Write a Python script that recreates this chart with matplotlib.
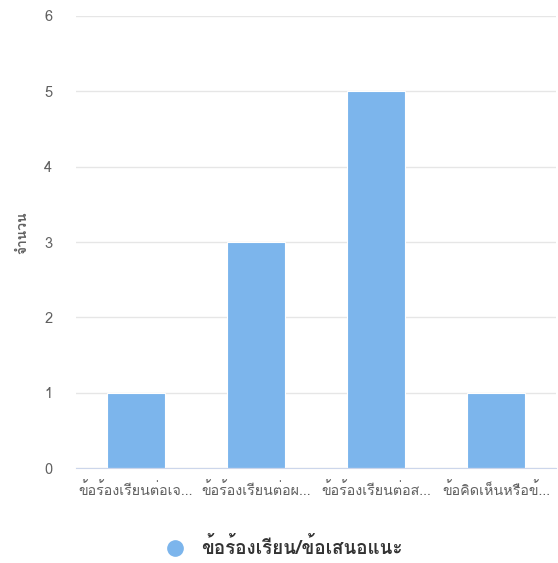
import matplotlib
matplotlib.use("Agg")
import matplotlib.pyplot as plt
from matplotlib import font_manager
from matplotlib.ft2font import FT2Font
from matplotlib.lines import Line2D

# data
categories = ["ข้อร้องเรียนต่อเจ…", "ข้อร้องเรียนต่อผ…", "ข้อร้องเรียนต่อส…", "ข้อคิดเห็นหรือข้…"]
counts = [1, 3, 5, 1]
series_name = "ข้อร้องเรียน/ข้อเสนอแนะ"
y_label = "จำนวน"
y_ticks = [0, 1, 2, 3, 4, 5, 6]

# look for an installed font that has thai glyphs
thai_family = None
for f in font_manager.fontManager.ttflist:
    try:
        if ord("ก") in FT2Font(f.fname).get_charmap():
            thai_family = f.name
            break
    except Exception:
        pass
families = [thai_family, "DejaVu Sans"] if thai_family else ["DejaVu Sans"]
plt.rcParams["font.family"] = families

bar_color = "#7cb5ec"
text_color = "#606060"

fig = plt.figure(figsize=(5.58, 5.63), dpi=100)
ax = fig.add_axes([0.1362, 0.1687, 0.8602, 0.8029])

x = list(range(len(categories)))
ax.bar(x, counts, width=0.48, color=bar_color, edgecolor="white", linewidth=0.8, zorder=3)

ax.set_xlim(-0.5, len(categories) - 0.5)
ax.set_ylim(0, 6)
ax.set_yticks(y_ticks)
ax.set_xticks(x)
ax.set_xticklabels(categories, fontsize=10.3, color=text_color)
ax.tick_params(axis="y", length=0, pad=17, labelsize=10.5, labelcolor=text_color)
ax.tick_params(axis="x", length=0, pad=10)
ax.grid(axis="y", color="#e6e6e6", linewidth=1, zorder=0)
for s in ["top", "right", "left"]:
    ax.spines[s].set_visible(False)
ax.spines["bottom"].set_color("#ccd6eb")
ax.spines["bottom"].set_zorder(4)

ax.set_ylabel(y_label, fontsize=10, color=text_color, fontweight="bold")
ax.yaxis.set_label_coords(-0.097, 0.52)

handle = Line2D([], [], marker="o", linestyle="none", markersize=11,
                markerfacecolor=bar_color, markeredgecolor=bar_color)
fig.legend([handle], [series_name], loc="center", bbox_to_anchor=(0.5, 0.027),
           frameon=False, handletextpad=0.4,
           prop={"size": 13.5, "weight": "bold"}, labelcolor="#333333")

fig.savefig("out.png", dpi=100)
